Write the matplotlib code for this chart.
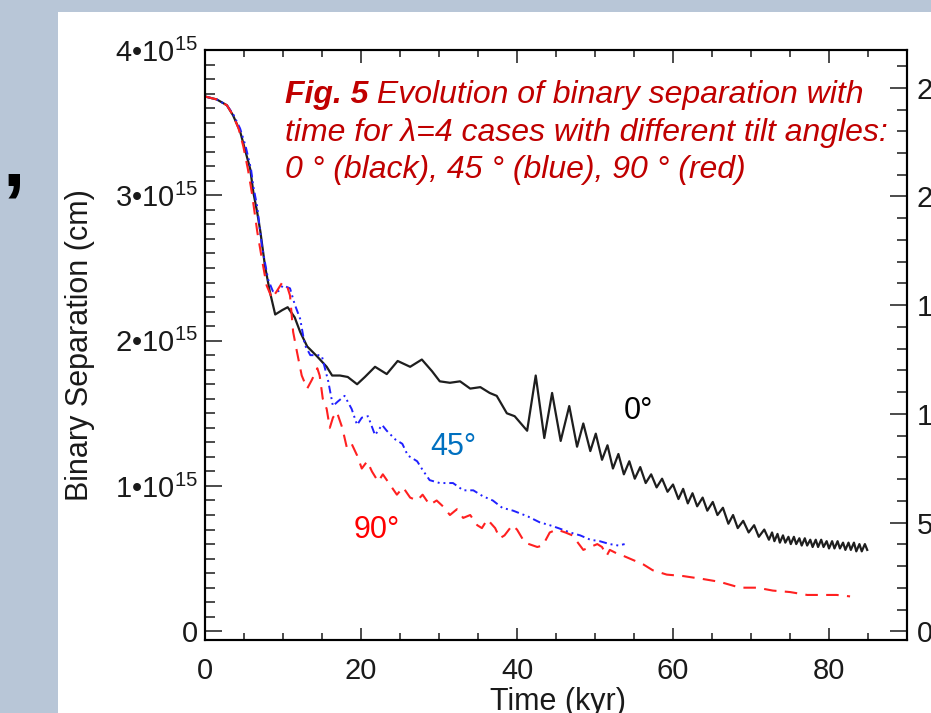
"""
Binary separation vs time for lambda=4 runs with three tilt angles.
Recreates the slide figure (left axis in cm, right axis in AU).
"""
import numpy as np
import matplotlib
matplotlib.use("Agg")
import matplotlib.pyplot as plt
from matplotlib.patches import Rectangle
from matplotlib.ticker import MultipleLocator, FuncFormatter, FixedLocator

# ── data: (time [kyr], separation [1e15 cm]) ─────────────────────────────
tilt0_pts = [
    (0, 3.68), (1.5, 3.66), (2.8, 3.62), (3.6, 3.55), (4.5, 3.44), (5.1, 3.32),
    (5.8, 3.18), (6.2, 3.02), (6.7, 2.88), (7.1, 2.75), (7.7, 2.51), (8.3, 2.34),
    (9.0, 2.18), (9.9, 2.21), (10.6, 2.23), (11.5, 2.16), (12.2, 2.06), (13.1, 1.96),
    (14.4, 1.89), (15.6, 1.82), (16.3, 1.76), (17.3, 1.76), (18.3, 1.75), (19.5, 1.70),
    (20.5, 1.75), (21.8, 1.82), (23.3, 1.77), (24.7, 1.86), (26.3, 1.82), (27.8, 1.87),
    (29.1, 1.79), (30.1, 1.72), (31.4, 1.71), (32.7, 1.72), (34.0, 1.67), (35.3, 1.68),
    (36.5, 1.64), (37.4, 1.62), (38.7, 1.50), (39.7, 1.48), (41.3, 1.38), (42.4, 1.76),
    (43.5, 1.33), (44.5, 1.64), (45.6, 1.31), (46.7, 1.55), (47.7, 1.27), (48.5, 1.43),
    (49.4, 1.24), (50.1, 1.36), (50.9, 1.18), (51.6, 1.28), (52.3, 1.12), (53.0, 1.22),
    (53.7, 1.08), (54.4, 1.17), (55.1, 1.05), (55.8, 1.13), (56.5, 1.02), (57.2, 1.08),
    (57.9, 0.99), (58.6, 1.05), (59.3, 0.96), (60.0, 1.01), (60.7, 0.91), (61.3, 0.98),
    (61.9, 0.88), (62.5, 0.95), (63.1, 0.86), (63.8, 0.92), (64.4, 0.83), (65.1, 0.89),
    (65.7, 0.80), (66.4, 0.85), (67.1, 0.74), (67.7, 0.80), (68.3, 0.71), (69.0, 0.76),
    (69.7, 0.68), (70.4, 0.73), (71.0, 0.65), (71.7, 0.70), (72.3, 0.63), (72.7, 0.68),
    (73.0, 0.62), (73.4, 0.67), (73.7, 0.61), (74.1, 0.66), (74.4, 0.61), (74.8, 0.65),
    (75.1, 0.60), (75.5, 0.65), (75.8, 0.60), (76.2, 0.64), (76.5, 0.59), (76.9, 0.64),
    (77.2, 0.59), (77.6, 0.63), (77.9, 0.58), (78.3, 0.63), (78.6, 0.58), (79.0, 0.63),
    (79.3, 0.58), (79.7, 0.62), (80.0, 0.57), (80.4, 0.62), (80.7, 0.57), (81.1, 0.62),
    (81.4, 0.57), (81.8, 0.61), (82.1, 0.56), (82.5, 0.61), (82.8, 0.56), (83.2, 0.61),
    (83.5, 0.55), (83.9, 0.60), (84.2, 0.55), (84.6, 0.60), (84.9, 0.56),
]

tilt45_pts = [
    (0, 3.68), (1.5, 3.66), (2.8, 3.62), (3.6, 3.56), (4.5, 3.46), (5.2, 3.34),
    (5.9, 3.18), (6.2, 3.06), (6.7, 2.92), (7.3, 2.65), (8.1, 2.42), (8.7, 2.34),
    (9.4, 2.34), (10.0, 2.38), (10.9, 2.36), (11.5, 2.25), (12.2, 2.15), (12.8, 1.97),
    (13.5, 1.90), (14.7, 1.90), (15.0, 1.89), (15.8, 1.72), (16.4, 1.55), (17.0, 1.58),
    (17.9, 1.62), (18.8, 1.53), (19.5, 1.42), (20.1, 1.47), (20.9, 1.48), (21.8, 1.35),
    (22.7, 1.42), (23.3, 1.38), (24.4, 1.32), (25.3, 1.29), (26.0, 1.21), (27.2, 1.17),
    (27.9, 1.11), (28.8, 1.04), (30.1, 1.02), (31.8, 1.02), (33.1, 0.97), (34.4, 0.97),
    (35.6, 0.93), (36.9, 0.90), (38.1, 0.85), (39.5, 0.83), (41.4, 0.79), (42.9, 0.75),
    (44.2, 0.73), (45.3, 0.71), (46.8, 0.68), (48.1, 0.66), (49.4, 0.63), (50.6, 0.62),
    (51.9, 0.60), (53.0, 0.59), (53.8, 0.60),
]

tilt90_pts = [
    (0, 3.68), (1.5, 3.66), (2.8, 3.62), (3.6, 3.55), (4.3, 3.46), (4.9, 3.34),
    (5.5, 3.18), (6.0, 3.02), (6.7, 2.75), (7.3, 2.56), (7.9, 2.38), (8.6, 2.29),
    (9.2, 2.34), (9.9, 2.40), (10.5, 2.38), (10.9, 2.31), (11.3, 2.06), (11.8, 1.92),
    (12.4, 1.76), (13.1, 1.67), (13.7, 1.73), (14.4, 1.81), (14.7, 1.76), (15.1, 1.60),
    (15.6, 1.53), (16.0, 1.40), (16.4, 1.47), (16.9, 1.51), (17.6, 1.40), (18.2, 1.26),
    (18.8, 1.29), (19.5, 1.21), (20.1, 1.12), (20.8, 1.17), (21.4, 1.10), (22.2, 1.03),
    (22.8, 1.08), (23.7, 1.01), (24.6, 0.94), (25.4, 0.99), (26.3, 0.92), (27.2, 0.90),
    (27.9, 0.94), (28.8, 0.87), (29.7, 0.90), (30.5, 0.86), (31.4, 0.80), (32.3, 0.84),
    (33.1, 0.78), (34.0, 0.80), (34.9, 0.73), (35.5, 0.71), (36.2, 0.77), (37.2, 0.71),
    (37.8, 0.64), (38.4, 0.66), (39.4, 0.73), (40.0, 0.70), (41.0, 0.61), (42.6, 0.58),
    (43.3, 0.59), (44.2, 0.68), (45.1, 0.70), (46.2, 0.68), (47.1, 0.66), (47.8, 0.61),
    (48.5, 0.56), (49.4, 0.58), (50.3, 0.60), (50.9, 0.58), (51.5, 0.52), (51.9, 0.56),
    (53.0, 0.53), (53.6, 0.52), (54.9, 0.49), (56.2, 0.46), (57.4, 0.42), (59.2, 0.39),
    (61.3, 0.38), (63.8, 0.36), (66.0, 0.34), (68.6, 0.30), (70.8, 0.30), (72.8, 0.28),
    (75.0, 0.27), (77.2, 0.25), (79.2, 0.25), (81.0, 0.25), (82.7, 0.24),
]

x_major = [0, 20, 40, 60, 80]
y_major = [0, 1, 2, 3, 4]          # in 1e15 cm
au_major = [0, 50, 100, 150, 200, 250]

CM_PER_AU = 1.496e13
UNIT = 1e15

# ── style ────────────────────────────────────────────────────────────────
plt.rcParams["font.family"] = ["Liberation Sans", "DejaVu Sans"]
plt.rcParams["mathtext.fontset"] = "custom"
plt.rcParams["mathtext.rm"] = "Liberation Sans"
plt.rcParams["mathtext.it"] = "Liberation Sans:italic"

W, H = 931, 713
fig = plt.figure(figsize=(W / 100, H / 100), dpi=100)
fig.patch.set_facecolor("#b8c6d7")
fig.add_artist(Rectangle((58 / W, 0), 1, 1 - 12 / H, transform=fig.transFigure,
                         facecolor="white", edgecolor="none", zorder=0))

ax = fig.add_axes([205 / W, 1 - 640 / H, (907 - 205) / W, (640 - 50) / H])
ax.set_facecolor("white")

t0, s0 = np.array(tilt0_pts).T
t45, s45 = np.array(tilt45_pts).T
t90, s90 = np.array(tilt90_pts).T

ax.plot(t0, s0 * UNIT, color="#1e1e1e", lw=1.6, zorder=3)
ax.plot(t45, s45 * UNIT, color="#2020ff", lw=1.4, ls=(0, (4, 2, 1, 2, 1, 2)), zorder=4)
ax.plot(t90, s90 * UNIT, color="#ff2020", lw=1.5, ls=(0, (6, 4)), zorder=5)

ymin, ymax = -0.06 * UNIT, 4.0 * UNIT
ax.set_xlim(0, 90)
ax.set_ylim(ymin, ymax)

ax.xaxis.set_major_locator(FixedLocator(x_major))
ax.xaxis.set_minor_locator(MultipleLocator(5))
ax.yaxis.set_major_locator(FixedLocator([v * UNIT for v in y_major]))
ax.yaxis.set_minor_locator(MultipleLocator(0.1 * UNIT))


def sci_fmt(v, pos):
    k = int(round(v / UNIT))
    return "0" if k == 0 else f"{k}•10$^{{15}}$"


ax.yaxis.set_major_formatter(FuncFormatter(sci_fmt))

for sp in ax.spines.values():
    sp.set_linewidth(1.5)

ax.tick_params(axis="y", which="both", direction="in", left=True, right=False,
               labelsize=21, pad=5, width=1.1, colors="#1a1a1a")
ax.tick_params(axis="y", which="major", length=12)
ax.tick_params(axis="y", which="minor", length=7)
ax.tick_params(axis="x", which="both", direction="in", top=True, bottom=True,
               labelsize=21, pad=12, width=1.1, colors="#1a1a1a")
ax.tick_params(axis="x", which="major", length=9)
ax.tick_params(axis="x", which="minor", length=5)

# right axis in AU (labels run off the edge of the slide, as in the original)
ax2 = ax.twinx()
ax2.set_ylim(ymin / CM_PER_AU, ymax / CM_PER_AU)
ax2.yaxis.set_major_locator(FixedLocator(au_major))
ax2.yaxis.set_minor_locator(MultipleLocator(10))
ax2.tick_params(axis="y", which="both", direction="in", labelsize=21, pad=7,
                width=1.1, colors="#1a1a1a")
ax2.tick_params(axis="y", which="major", length=12)
ax2.tick_params(axis="y", which="minor", length=7)
for sp in ax2.spines.values():
    sp.set_linewidth(1.5)

# axis titles
fig.text(80 / W, 1 - 345 / H, "Binary Separation (cm)", rotation=90,
         ha="center", va="center", fontsize=22, color="#1a1a1a")
fig.text(558 / W, 1 - 710 / H, "Time (kyr)", ha="center", va="baseline",
         fontsize=22, color="#1a1a1a")

# caption inside the plot
RED_DARK = "#c00000"
CAP_FS = 23
fig_lbl = fig.text(285 / W, 1 - 103 / H, "Fig. 5", fontsize=CAP_FS, style="italic",
                   weight="bold", color=RED_DARK, va="baseline")
cap1 = fig.text(285 / W, 1 - 103 / H, " Evolution of binary separation with",
                fontsize=CAP_FS, style="italic", color=RED_DARK, va="baseline")
fig.text(285 / W, 1 - 141 / H, "time for λ=4 cases with different tilt angles:",
         fontsize=CAP_FS, style="italic", color=RED_DARK, va="baseline")
fig.text(285 / W, 1 - 178 / H, "0 ° (black), 45 ° (blue), 90 ° (red)",
         fontsize=CAP_FS, style="italic", color=RED_DARK, va="baseline")

# curve labels
fig.text(638 / W, 1 - 411 / H, "0°", ha="center", va="center", fontsize=22, color="black")
fig.text(453 / W, 1 - 447 / H, "45°", ha="center", va="center", fontsize=22, color="#0070c0")
fig.text(377 / W, 1 - 530 / H, "90°", ha="center", va="center", fontsize=22, color="#ff0000")

# stray comma on the slide
fig.text(14 / W, 1 - 186 / H, ",", ha="center", va="baseline", fontsize=58,
         weight="bold", color="black")

# put the rest of line one right after the bold "Fig. 5"
fig.canvas.draw()
bb = fig_lbl.get_window_extent()
cap1.set_position((bb.x1 / W, 1 - 103 / H))

fig.savefig("out.png", dpi=100, facecolor=fig.get_facecolor())
